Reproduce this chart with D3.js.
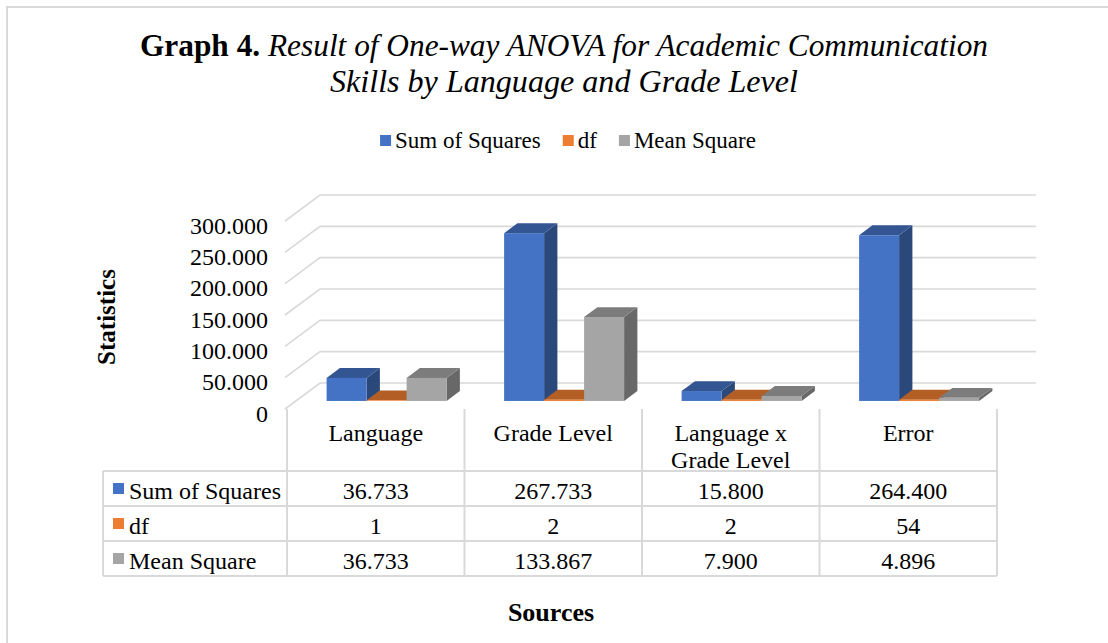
<!DOCTYPE html>
<html>
<head>
<meta charset="utf-8">
<script src="https://cdn.jsdelivr.net/npm/d3@7"></script>
<style>
  html, body { margin: 0; padding: 0; background: #ffffff; }
  svg { display: block; font-family: "Liberation Serif", "Times New Roman", serif; }
</style>
</head>
<body>
<script>
// ---------------- data ----------------
const categories = ["Language", "Grade Level", "Language x Grade Level", "Error"];
const seriesNames = ["Sum of Squares", "df", "Mean Square"];
const seriesColors = ["#4472c4", "#ed7d31", "#a5a5a5"];
const sumOfSquares = [36.733, 267.733, 15.8, 264.4];
const dfValues = [1, 2, 2, 54];          // values shown in the data table
const dfBarValues = [1, 2, 2, 2];        // df bars as drawn in the picture (Error bar is flat)
const meanSquare = [36.733, 133.867, 7.9, 4.896];
const yTickValues = [0, 50, 100, 150, 200, 250, 300];
const yTickLabels = ["0", "50.000", "100.000", "150.000", "200.000", "250.000", "300.000"];
const titleBold = "Graph 4.";
const titleItalic1 = " Result of One-way ANOVA for Academic Communication";
const titleItalic2 = "Skills by Language and Grade Level";
const yAxisTitle = "Statistics";
const xAxisTitle = "Sources";

const barValues = [sumOfSquares, dfBarValues, meanSquare];
const tableRows = [
  { name: seriesNames[0], color: seriesColors[0], labels: sumOfSquares.map(d3.format(".3f")) },
  { name: seriesNames[1], color: seriesColors[1], labels: dfValues.map(d3.format("d")) },
  { name: seriesNames[2], color: seriesColors[2], labels: meanSquare.map(d3.format(".3f")) }
];

// ---------------- layout ----------------
const W = 1108, H = 643;
const GRID = "#d9d9d9";
const FS = 24;
const depth = { dx: 35, dy: -26 };
const f1 = 0.31, f2 = 0.69;           // bar front/back positions inside the depth

const svg = d3.select("body").append("svg").attr("width", W).attr("height", H);

// outer chart border (right/bottom outside the picture)
svg.append("rect").attr("x", 7).attr("y", 7).attr("width", 1200).attr("height", 800)
  .attr("fill", "none").attr("stroke", GRID).attr("stroke-width", 2);

const x = d3.scaleBand().domain(categories).range([287, 997]).paddingInner(0).paddingOuter(0);
const xs = d3.scaleBand().domain(seriesNames).range([0, x.bandwidth()]).paddingInner(0).paddingOuter(0.719);
const y = d3.scaleLinear().domain([0, 300]).range([409, 221]);

// ---------------- title ----------------
const t1 = svg.append("text").attr("y", 56).attr("font-size", 31).attr("fill", "#000");
t1.append("tspan").attr("font-weight", "bold").text(titleBold);
t1.append("tspan").attr("font-style", "italic").text(titleItalic1);
t1.attr("textLength", 848).attr("lengthAdjust", "spacingAndGlyphs").attr("x", 564 - 424);

svg.append("text").attr("x", 564 - 234).attr("y", 92).attr("font-size", 31)
  .attr("font-style", "italic").attr("fill", "#000")
  .attr("textLength", 468).attr("lengthAdjust", "spacingAndGlyphs")
  .text(titleItalic2);

// ---------------- legend ----------------
const legend = svg.append("g");
let lx = 0;
seriesNames.forEach((name, i) => {
  const g = legend.append("g").attr("transform", `translate(${lx},0)`);
  g.append("rect").attr("x", 0).attr("y", 135).attr("width", 11).attr("height", 11).attr("fill", seriesColors[i]);
  const tx = g.append("text").attr("x", 15).attr("y", 148).attr("font-size", 23).attr("fill", "#000").text(name);
  lx += 15 + tx.node().getComputedTextLength() + 22;
});
legend.attr("transform", `translate(${568 - (lx - 22) / 2},0)`);

// ---------------- gridlines (side wall + back wall) ----------------
const grid = svg.append("g");
yTickValues.forEach(t => {
  const fx = 285, fy = y(t);
  grid.append("path")
    .attr("d", `M${fx},${fy}L${fx + depth.dx},${fy + depth.dy}L${x.range()[1] + depth.dx + 4},${fy + depth.dy}`)
    .attr("fill", "none").attr("stroke", GRID).attr("stroke-width", 1.6);
});

// y axis labels
const yAxis = d3.axisLeft(y).tickValues(yTickValues).tickSize(0).tickPadding(8)
  .tickFormat((d, i) => yTickLabels[i]);
const ya = svg.append("g").attr("transform", "translate(276,0)").call(yAxis);
ya.select(".domain").remove();
ya.selectAll("text").attr("font-size", FS).attr("font-family", "Liberation Serif").attr("fill", "#000").attr("dy", "0.5em");

svg.append("text").attr("transform", "translate(115,317) rotate(-90)")
  .attr("text-anchor", "middle").attr("font-size", 25).attr("font-weight", "bold").attr("fill", "#000")
  .text(yAxisTitle);

// ---------------- 3D bars ----------------
const bars = svg.append("g");
const ddx = (f2 - f1) * depth.dx, ddy = (f2 - f1) * depth.dy;
categories.forEach((cat, ci) => {
  seriesNames.forEach((s, si) => {
    const v = barValues[si][ci];
    const base = d3.color(seriesColors[si]);
    const xL = x(cat) + xs(s) + f1 * depth.dx;
    const xR = xL + xs.bandwidth();
    const yT = y(v) + f1 * depth.dy;
    const yB = y(0) + f1 * depth.dy;
    const g = bars.append("g");
    g.append("path")
      .attr("d", `M${xR},${yT}L${xR + ddx},${yT + ddy}L${xR + ddx},${yB + ddy}L${xR},${yB}Z`)
      .attr("fill", base.darker(1.3));
    g.append("path")
      .attr("d", `M${xL},${yT}L${xR},${yT}L${xR + ddx},${yT + ddy}L${xL + ddx},${yT + ddy}Z`)
      .attr("fill", base.darker(0.8));
    g.append("rect").attr("x", xL).attr("y", yT).attr("width", xR - xL).attr("height", Math.max(0, yB - yT))
      .attr("fill", base);
  });
});

// ---------------- data table ----------------
const tableLeft = 103, tableRight = x.range()[1];
const headerTop = 409, rowTop = 471, rowH = 35;
const tbl = svg.append("g").attr("stroke", GRID).attr("stroke-width", 2).attr("fill", "none");
const colEdges = categories.map(c => x(c)).concat([x.range()[1]]);
colEdges.forEach(cx => {
  tbl.append("line").attr("x1", cx).attr("x2", cx).attr("y1", headerTop).attr("y2", rowTop + rowH * tableRows.length);
});
tbl.append("line").attr("x1", tableLeft).attr("x2", tableLeft).attr("y1", rowTop).attr("y2", rowTop + rowH * tableRows.length);
d3.range(tableRows.length + 1).forEach(i => {
  tbl.append("line").attr("x1", tableLeft).attr("x2", tableRight)
    .attr("y1", rowTop + i * rowH).attr("y2", rowTop + i * rowH);
});

// header labels (wrapped)
categories.forEach(cat => {
  const cx = x(cat) + x.bandwidth() / 2;
  const words = cat.split(" ");
  const txt = svg.append("text").attr("text-anchor", "middle").attr("font-size", FS).attr("fill", "#000");
  let line = [], lineNo = 0;
  let ts = txt.append("tspan").attr("x", cx).attr("y", 441);
  words.forEach(w => {
    line.push(w);
    ts.text(line.join(" "));
    if (ts.node().getComputedTextLength() > x.bandwidth() - 16 && line.length > 1) {
      line.pop();
      ts.text(line.join(" "));
      line = [w];
      lineNo++;
      ts = txt.append("tspan").attr("x", cx).attr("y", 441 + lineNo * 27).text(w);
    }
  });
});

// rows
tableRows.forEach((row, ri) => {
  const cy = rowTop + ri * rowH + rowH / 2;
  svg.append("rect").attr("x", 113).attr("y", cy - 5.5).attr("width", 11).attr("height", 11).attr("fill", row.color);
  svg.append("text").attr("x", 129).attr("y", cy + 10).attr("font-size", FS).attr("fill", "#000").text(row.name);
  row.labels.forEach((lab, ci) => {
    svg.append("text").attr("x", x(categories[ci]) + x.bandwidth() / 2).attr("y", cy + 10)
      .attr("text-anchor", "middle").attr("font-size", FS).attr("fill", "#000").text(lab);
  });
});

svg.append("text").attr("x", 551).attr("y", 621).attr("text-anchor", "middle")
  .attr("font-size", 26).attr("font-weight", "bold").attr("fill", "#000").text(xAxisTitle);
</script>
</body>
</html>
